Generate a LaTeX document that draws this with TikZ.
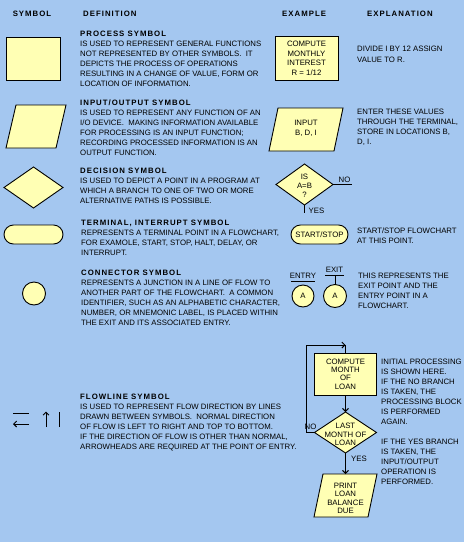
\documentclass[tikz,border=0pt]{standalone}
\usepackage{fontspec}
\setmainfont{Liberation Sans}
\newfontfamily\ttlfont[LetterSpace=13]{Liberation Sans}
\usetikzlibrary{shapes.geometric,arrows.meta}
\definecolor{bgblue}{RGB}{164,199,240}
\definecolor{symyellow}{RGB}{255,255,180}
\begin{document}
\begin{tikzpicture}[x=1pt,y=-1pt,
  sym/.style={draw=black,line width=0.9pt,fill=symyellow,inner sep=0pt,outer sep=0pt},
  frame/.style={inner sep=0pt,outer sep=0pt},
  dia/.style={sym,diamond},
  body/.style={font=\fontsize{7.8}{10}\selectfont,align=left,inner sep=0pt,anchor=north west},
  hdr/.style={font=\ttlfont\bfseries\fontsize{7.8}{10}\selectfont,inner sep=0pt},
  intxt/.style={font=\fontsize{7.8}{9.5}\selectfont,align=center,inner sep=0pt},
  arr/.style={line width=0.9pt,-{Straight Barb[length=3pt,width=6pt]}},
  ln/.style={line width=0.9pt}]
\fill[bgblue] (0,0) rectangle (464,542);
\useasboundingbox (0,0) rectangle (464,542);
\newcommand{\ttl}[1]{{\ttlfont\bfseries #1}}
% parallelogram drawn inside the frame node #1, slant #2
\newcommand{\paradraw}[2]{\draw[sym] ([xshift=#2]#1.north west) -- (#1.north east) -- ([xshift=-#2]#1.south east) -- (#1.south west) -- cycle;}

% headers
\node[hdr] (hsym) at (32,14) {SYMBOL};
\node[hdr,anchor=west] (hdef) at (83,14) {DEFINITION};
\node[hdr,anchor=west] (hex) at (282,14) {EXAMPLE};
\node[hdr,anchor=west] (hexp) at (367,14) {EXPLANATION};

% ---------- process
\node[sym,minimum width=54,minimum height=43] (psym) at (33,58.5) {};
\node[body] (pdef) at (80,31.2) {\ttl{PROCESS SYMBOL}\\IS USED TO REPRESENT GENERAL FUNCTIONS\\NOT REPRESENTED BY OTHER SYMBOLS.~ IT\\DEPICTS THE PROCESS OF OPERATIONS\\RESULTING IN A CHANGE OF VALUE, FORM OR\\LOCATION OF INFORMATION.};
\node[sym,minimum width=63,minimum height=44] (pex) at (306.5,58) {};
\node[intxt] (pext) at (306.5,58.5) {COMPUTE\\MONTHLY\\INTEREST\\R = 1/12};
\node[body,font=\fontsize{7.8}{11}\selectfont] (pexp) at (357,46.2) {DIVIDE I BY 12 ASSIGN\\VALUE TO R.};

% ---------- input/output
\node[frame,minimum width=60,minimum height=43] (iosym) at (36,126.5) {};
\paradraw{iosym}{10}
\node[body] (iodef) at (80,99.2) {\ttl{INPUT/OUTPUT SYMBOL}\\IS USED TO REPRESENT ANY FUNCTION OF AN\\I/O DEVICE.~ MAKING INFORMATION AVAILABLE\\FOR PROCESSING IS AN INPUT FUNCTION;\\RECORDING PROCESSED INFORMATION IS AN\\OUTPUT FUNCTION.};
\node[frame,minimum width=74,minimum height=43] (ioex) at (306,129.5) {};
\paradraw{ioex}{9}
\node[intxt,font=\fontsize{7.8}{10}\selectfont] (ioext) at (306,128.5) {INPUT\\B, D, I};
\node[body] (ioexp) at (357,109.2) {ENTER THESE VALUES\\THROUGH THE TERMINAL,\\STORE IN LOCATIONS B,\\D, I.};

% ---------- decision
\node[dia,minimum width=59,minimum height=41] (dsym) at (33.5,187.5) {};
\node[body] (ddef) at (80,167.7) {\ttl{DECISION SYMBOL}\\IS USED TO DEPICT A POINT IN A PROGRAM AT\\WHICH A BRANCH TO ONE OF TWO OR MORE\\ALTERNATIVE PATHS IS POSSIBLE.};
\node[dia,minimum width=57,minimum height=41] (dex) at (304.5,184.5) {};
\node[intxt,font=\fontsize{7.8}{9}\selectfont] (dext) at (304.5,186) {IS\\A=B\\?};
\coordinate (dno) at (352,184.5);
\coordinate (dyes) at (304.5,213);
\draw[ln] (dex.east) -- (dno);
\draw[ln] (dex.south) -- (dyes);
\node[intxt] (dnol) at (344.5,180) {NO};
\node[intxt] (dyesl) at (316.5,211) {YES};

% ---------- terminal
\node[sym,minimum width=59,minimum height=19,rounded corners=9.5] (tsym) at (33.5,234.5) {};
\node[body] (tdef) at (81,219.5) {\ttl{TERMINAL, INTERRUPT SYMBOL}\\REPRESENTS A TERMINAL POINT IN A FLOWCHART,\\FOR EXAMOLE, START, STOP, HALT, DELAY, OR\\INTERRUPT.};
\node[sym,minimum width=57,minimum height=19,rounded corners=9.5] (tex) at (319.5,234.5) {};
\node[intxt] (text) at (319.5,235) {START/STOP};
\node[body] (texp) at (357,227.2) {START/STOP FLOWCHART\\AT THIS POINT.};

% ---------- connector
\node[sym,circle,minimum size=23] (csym) at (34,293.5) {};
\node[body] (cdef) at (81,270.2) {\ttl{CONNECTOR SYMBOL}\\REPRESENTS A JUNCTION IN A LINE OF FLOW TO\\ANOTHER PART OF THE FLOWCHART.~ A COMMON\\IDENTIFIER, SUCH AS AN ALPHABETIC CHARACTER,\\NUMBER, OR MNEMONIC LABEL, IS PLACED WITHIN\\THE EXIT AND ITS ASSOCIATED ENTRY.};
\node[sym,circle,minimum size=22] (centry) at (303,296) {};
\node[intxt] at (centry) {A};
\node[sym,circle,minimum size=23] (cexit) at (335,296) {};
\node[intxt] at (cexit) {A};
\node[intxt] (entryl) at (303,276) {ENTRY};
\coordinate (eul) at (291,281);
\coordinate (eur) at (315,281);
\draw[ln] (eul) -- (eur);
\node[intxt] (exitl) at (334.5,269.5) {EXIT};
\coordinate (xul) at (325,275);
\coordinate (xur) at (344,275);
\coordinate (xum) at (335,275);
\draw[ln] (xul) -- (xur);
\draw[ln] (xum) -- (cexit.north);
\node[body] (cexp) at (358,273.2) {THIS REPRESENTS THE\\EXIT POINT AND THE\\ENTRY POINT IN A\\FLOWCHART.};

% ---------- flowline
\coordinate (fa1) at (13,413);
\coordinate (fa2) at (29,413);
\coordinate (fb1) at (29,424);
\coordinate (fb2) at (13,424);
\coordinate (fc1) at (46,427);
\coordinate (fc2) at (46,411.5);
\coordinate (fd1) at (59,427);
\coordinate (fd2) at (59,411.5);
\draw[ln] (fa1) -- (fa2);
\draw[arr] (fb1) -- (fb2);
\draw[arr] (fc1) -- (fc2);
\draw[ln] (fd1) -- (fd2);
\node[body] (fdef) at (80,394.2) {\ttl{FLOWLINE SYMBOL}\\IS USED TO REPRESENT FLOW DIRECTION BY LINES\\DRAWN BETWEEN SYMBOLS.~ NORMAL DIRECTION\\OF FLOW IS LEFT TO RIGHT AND TOP TO BOTTOM.\\IF THE DIRECTION OF FLOW IS OTHER THAN NORMAL,\\ARROWHEADS ARE REQUIRED AT THE POINT OF ENTRY.};

% flowchart example
\node[sym,minimum width=62,minimum height=42] (fbox) at (345.5,374) {};
\node[intxt,font=\fontsize{7.8}{8.4}\selectfont] (fboxt) at (345.5,374) {COMPUTE\\MONTH\\OF\\LOAN};
\node[dia,minimum width=62,minimum height=41] (fdia) at (345.5,432.5) {};
\node[intxt,font=\fontsize{7.8}{8.5}\selectfont] (fdiat) at (345.5,434.5) {LAST\\MONTH OF\\LOAN};
\node[frame,minimum width=63,minimum height=43] (fprint) at (345.5,495.5) {};
\paradraw{fprint}{9}
\node[intxt,font=\fontsize{7.8}{8.4}\selectfont] (fprintt) at (345.5,498.5) {PRINT\\LOAN\\BALANCE\\DUE};
\draw[arr] (fbox.south) -- (fdia.north);
\draw[arr] (fdia.south) -- (fprint.north);
\coordinate (loopL) at (306,345);
\coordinate (loopC) at (345.5,345);
\draw[arr] (fdia.west) -| (loopL) -- (loopC);
\draw[ln] (loopC) -- (fbox.north);
\node[intxt] (fnol) at (310.5,427) {NO};
\node[intxt] (fyesl) at (359,459) {YES};
\node[body] (fexp) at (381,359.2) {INITIAL PROCESSING\\IS SHOWN HERE.\\IF THE NO BRANCH\\IS TAKEN, THE\\PROCESSING BLOCK\\IS PERFORMED\\AGAIN.\\[10pt]IF THE YES BRANCH\\IS TAKEN, THE\\INPUT/OUTPUT\\OPERATION IS\\PERFORMED.};
\end{tikzpicture}
\end{document}
